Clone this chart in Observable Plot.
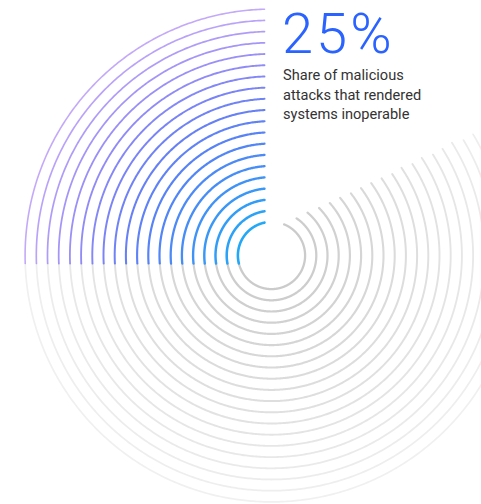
<!DOCTYPE html>
<html>
<head>
<meta charset="utf-8">
<script src="https://cdn.jsdelivr.net/npm/d3@7"></script>
<script src="https://cdn.jsdelivr.net/npm/@observablehq/plot@0.6"></script>
<style>
  html, body { margin: 0; padding: 0; background: #fff; }
  #wrap { position: relative; width: 481px; height: 504px; overflow: hidden; }
  #big { position: absolute; left: 282px; top: 5.5px; font-family: Roboto, "Open Sans", sans-serif; font-weight: 300; font-size: 56px; line-height: 56px; letter-spacing: 3px; color: #2a63ff; }
  #sub { position: absolute; left: 283px; top: 66px; font-family: Roboto, "Noto Sans", sans-serif; font-size: 14.6px; line-height: 19.5px; color: #333; }
</style>
</head>
<body>
<div id="wrap">
  <div id="chart"></div>
  <div id="big"></div>
  <div id="sub"></div>
</div>
<script>
// ---- data ----
const share = 25;                       // percent highlighted
const valueLabel = "25%";
const captionLines = ["Share of malicious", "attacks that rendered", "systems inoperable"];
const rings = [1, 2, 3, 4, 5, 6, 7, 8, 9, 10, 11, 12, 13, 14, 15, 16, 17, 18, 19, 20];
// angle (deg, clockwise from north) where each grey ring begins
const greyStart = [22, 34, 40, 45, 48, 50, 52, 53, 54, 55, 56, 56, 57, 57, 58, 58, 58, 59, 59, 59];

// ---- geometry helpers (layout, not data) ----
const unit = 11.2;           // px per ring unit
const hole = 2;              // empty rings at center
const gapBelow = 8 / unit;   // colored arcs extend a little below horizontal
const gapTop = 7 / unit;     // colored arcs stop a little before north
const rad = Math.PI / 180;

function arc(ring, a0, a1, kind) {
  const R = ring + hole;
  const pts = [];
  const n = Math.max(2, Math.ceil((a1 - a0) / 0.5));
  for (let i = 0; i <= n; i++) {
    const a = (a0 + (a1 - a0) * i / n) * rad;
    pts.push({ring, kind, x: R * Math.sin(a), y: R * Math.cos(a)});
  }
  return pts;
}

const colorInterp = d3.interpolateRgbBasis(["#22a8f6", "#3d88f6", "#4b6ef4", "#7f74f5", "#b493f7"]);
const greyInterp = d3.interpolateRgb("#cbcbcb", "#f0f0f0");

const colored = [];
const grey = [];
rings.forEach((k, i) => {
  const R = k + hole;
  const d1 = Math.asin(gapBelow / R) / rad;
  const d2 = Math.asin(gapTop / R) / rad;
  const sweep = 360 * share / 100;
  colored.push(...arc(k, 360 - sweep - d1, 360 - d2, "c"));
  grey.push(...arc(k, greyStart[i], 360 - sweep - d1, "g"));
});

const W = 481, H = 504, cx = 271, cy = 255;
const t = r => (r - 1) / 19;

const marks = [];
rings.forEach(k => {
  marks.push(Plot.line(grey.filter(d => d.ring === k), {x: "x", y: "y", stroke: greyInterp(t(k)), strokeWidth: 2.3 - 0.6 * t(k), clip: true}));
});
rings.forEach(k => {
  marks.push(Plot.line(colored.filter(d => d.ring === k), {x: "x", y: "y", stroke: colorInterp(t(k)), strokeWidth: 2.6 - 1.0 * t(k), strokeOpacity: 1 - 0.2 * t(k), clip: true}));
});

const plot = Plot.plot({
  width: W,
  height: H,
  margin: 0,
  x: {domain: [-cx / unit, (W - cx) / unit], axis: null},
  y: {domain: [-(H - cy) / unit, cy / unit], axis: null},
  marks
});
document.getElementById("chart").appendChild(plot);
document.getElementById("big").textContent = valueLabel;
document.getElementById("sub").innerHTML = captionLines.map(s => `<div>${s}</div>`).join("");
</script>
</body>
</html>
